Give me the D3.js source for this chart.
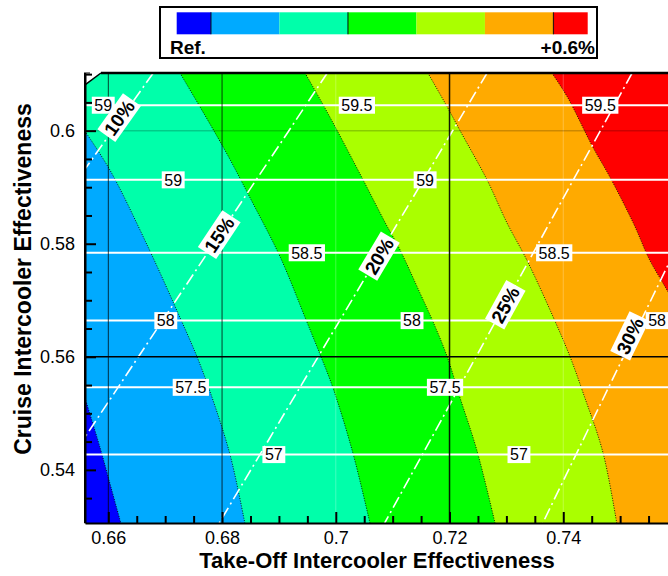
<!DOCTYPE html>
<html>
<head>
<meta charset="utf-8">
<script src="https://cdn.jsdelivr.net/npm/d3@7"></script>
<style>
  body { margin: 0; background: #fff; }
  svg { display: block; font-family: "Liberation Sans", Arial, Helvetica, sans-serif; }
</style>
</head>
<body>
<svg id="chart" width="668" height="576"></svg>
<script>
// ---- data -------------------------------------------------------------
// axis extents (take-off effectiveness, cruise effectiveness)
const xDomain = [0.6559, 0.76];
const yDomain = [0.5306, 0.6102];

const xTicks = [0.66, 0.68, 0.70, 0.72, 0.74];
const xTickLabels = ["0.66", "0.68", "0.7", "0.72", "0.74"];
const yTicks = [0.54, 0.56, 0.58, 0.60];
const yTickLabels = ["0.54", "0.56", "0.58", "0.6"];

// fuel-burn change bands, from reference (blue) to +0.6% (red)
const bandColors = ["#0000ff", "#00aaff", "#00ffaa", "#00ff00", "#aaff00", "#ffaa00", "#ff0000"];

// band boundaries, each traced top to bottom as [take-off eff, cruise eff]
const boundaryBlueLight = [[0.6559, 0.5527], [0.6585, 0.5441], [0.6605, 0.5368], [0.6622, 0.5306]];
const boundaryLightAqua = [[0.6559, 0.5999], [0.6603, 0.5930], [0.6670, 0.5794], [0.6728, 0.5665],
  [0.6756, 0.5600], [0.6779, 0.5538], [0.6814, 0.5427], [0.6840, 0.5306]];
const boundaryAquaGreen = [[0.6726, 0.6102], [0.6802, 0.5971], [0.6854, 0.5872], [0.6902, 0.5777],
  [0.6949, 0.5662], [0.6974, 0.5600], [0.6995, 0.5545], [0.7030, 0.5430], [0.7060, 0.5306]];
const boundaryGreenLime = [[0.6946, 0.6102], [0.6976, 0.6049], [0.7002, 0.6001], [0.7048, 0.5913],
  [0.7087, 0.5837], [0.7113, 0.5789], [0.7148, 0.5713], [0.7171, 0.5662], [0.7196, 0.5600],
  [0.7218, 0.5529], [0.7248, 0.5435], [0.7280, 0.5306]];
const boundaryLimeOrange = [[0.7162, 0.6102], [0.7196, 0.6042], [0.7218, 0.6001], [0.7266, 0.5913],
  [0.7301, 0.5837], [0.7336, 0.5771], [0.7382, 0.5671], [0.7412, 0.5600], [0.7435, 0.5536],
  [0.7470, 0.5430], [0.7494, 0.5306]];
const boundaryOrangeRed = [[0.7380, 0.6102], [0.7407, 0.6060], [0.7452, 0.5971], [0.7482, 0.5918],
  [0.7523, 0.5837], [0.7552, 0.5771], [0.7575, 0.5731], [0.7600, 0.5688]];
const boundaries = [boundaryBlueLight, boundaryLightAqua, boundaryAquaGreen,
  boundaryGreenLime, boundaryLimeOrange, boundaryOrangeRed];

// unusable corner of the design space (top left)
const cutCorner = [[0.6559, 0.6102], [0.6587, 0.6102], [0.6559, 0.6081]];

// iso-efficiency lines (cruise effectiveness) and their labels [text, take-off eff]
const effLineY = [0.6045, 0.5913, 0.5784, 0.5664, 0.5546, 0.5427];
const effLabels = [
  [["59", 0.6591], ["59.5", 0.7037], ["59.5", 0.7465]],
  [["59", 0.6714], ["59", 0.7157]],
  [["58.5", 0.6949], ["58.5", 0.7384]],
  [["58", 0.6701], ["58", 0.7134], ["58", 0.7565]],
  [["57.5", 0.6745], ["57.5", 0.7192]],
  [["57", 0.6891], ["57", 0.7322]]
];

// intercooler size lines (dash-dot)
const ratioNames = ["10%", "15%", "20%", "25%", "30%"];
const ratioTop = [[0.6679, 0.6102], [0.6985, 0.6102], [0.7266, 0.6102], [0.7521, 0.6102], [0.7748, 0.6102]];
const ratioBottom = [[0.6559, 0.5932], [0.6559, 0.5458], [0.6795, 0.5306], [0.7086, 0.5306], [0.7364, 0.5306]];
const ratioLabelAt = [[0.6619, 0.6023], [0.6795, 0.5816], [0.7076, 0.5778], [0.7298, 0.5692], [0.7517, 0.5637]];

// grid lines
const gridXStrong = [0.66, 0.68, 0.72];
const gridXFaint = [0.70, 0.74];
const gridYStrong = [0.56];
const gridYFaint = [0.60];

// legend
const legendSeparators = [0.5, 2.5, 5.5];
const legendEnds = ["Ref.", "+0.6%"];

// ---- layout -----------------------------------------------------------
const svg = d3.select("#chart");
const plot = { left: 85, top: 73, width: 592, height: 450 };

const x = d3.scaleLinear().domain(xDomain).range([plot.left, plot.left + plot.width]);
const y = d3.scaleLinear().domain(yDomain).range([plot.top + plot.height, plot.top]);

svg.append("defs").append("clipPath").attr("id", "plotClip")
  .append("rect")
  .attr("x", plot.left).attr("y", plot.top)
  .attr("width", plot.width).attr("height", plot.height);

const area = svg.append("g").attr("clip-path", "url(#plotClip)");

// ---- filled bands -----------------------------------------------------
const curve = d3.line().x(d => x(d[0])).y(d => y(d[1])).curve(d3.curveCatmullRom.alpha(0.5));
const xLo = xDomain[0] - 0.02, yLo = yDomain[0] - 0.02, yHi = yDomain[1] + 0.02;
const P = (a, b) => `${x(a)},${y(b)}`;

function leftOf(pts) {
  const first = pts[0], last = pts[pts.length - 1];
  return curve(pts) +
    `L${P(last[0], yLo)}L${P(xLo, yLo)}L${P(xLo, yHi)}L${P(first[0], yHi)}Z`;
}

area.append("rect")
  .attr("x", plot.left).attr("y", plot.top)
  .attr("width", plot.width).attr("height", plot.height)
  .attr("fill", bandColors[bandColors.length - 1]);

for (let i = boundaries.length - 1; i >= 0; i--) {
  area.append("path").attr("d", leftOf(boundaries[i])).attr("fill", bandColors[i]);
}

// band edges
area.selectAll("path.edge").data(boundaries).join("path")
  .attr("class", "edge")
  .attr("d", curve)
  .attr("fill", "none")
  .attr("stroke", "#000")
  .attr("stroke-width", 1)
  .attr("stroke-dasharray", "1,1.5")
  .attr("opacity", 0.85);

// faint grid
area.selectAll("line.gxf").data(gridXFaint).join("line")
  .attr("x1", d => x(d)).attr("x2", d => x(d))
  .attr("y1", plot.top).attr("y2", plot.top + plot.height)
  .attr("stroke", "#fff").attr("stroke-opacity", 0.25).attr("stroke-width", 1);
area.selectAll("line.gyf").data(gridYFaint).join("line")
  .attr("y1", d => y(d)).attr("y2", d => y(d))
  .attr("x1", plot.left).attr("x2", plot.left + plot.width)
  .attr("stroke", "#000").attr("stroke-opacity", 0.2).attr("stroke-width", 1.5);

// iso-efficiency lines
area.selectAll("line.eff").data(effLineY).join("line")
  .attr("class", "eff")
  .attr("x1", x(xDomain[0])).attr("x2", x(xDomain[1]))
  .attr("y1", d => y(d)).attr("y2", d => y(d))
  .attr("stroke", "#fff").attr("stroke-width", 2);

// intercooler size lines
area.selectAll("line.ratio").data(ratioNames).join("line")
  .attr("class", "ratio")
  .attr("x1", (d, i) => x(ratioTop[i][0])).attr("y1", (d, i) => y(ratioTop[i][1]))
  .attr("x2", (d, i) => x(ratioBottom[i][0])).attr("y2", (d, i) => y(ratioBottom[i][1]))
  .attr("stroke", "#fff").attr("stroke-width", 1.6)
  .attr("stroke-dasharray", "12,4,2,4");

// strong grid
area.selectAll("line.gxs").data(gridXStrong).join("line")
  .attr("x1", d => x(d)).attr("x2", d => x(d))
  .attr("y1", plot.top).attr("y2", plot.top + plot.height)
  .attr("stroke", "#000").attr("stroke-width", d => d === 0.72 ? 1.5 : 1)
  .attr("stroke-opacity", d => d === 0.72 ? 0.9 : 0.75);
area.selectAll("line.gys").data(gridYStrong).join("line")
  .attr("y1", d => y(d)).attr("y2", d => y(d))
  .attr("x1", plot.left).attr("x2", plot.left + plot.width)
  .attr("stroke", "#000").attr("stroke-width", 1.6);

// iso-efficiency labels
effLabels.forEach((row, r) => {
  row.forEach(([txt, xv]) => {
    const g = area.append("g").attr("transform", `translate(${x(xv)},${y(effLineY[r])})`);
    const rect = g.append("rect").attr("fill", "#fff");
    const t = g.append("text")
      .attr("text-anchor", "middle").attr("dy", "0.36em")
      .attr("font-size", 16).attr("fill", "#000").text(txt);
    const bb = t.node().getBBox();
    rect.attr("x", bb.x - 2.5).attr("y", -8.5).attr("width", bb.width + 5).attr("height", 17);
  });
});

// intercooler size labels, aligned with their lines
ratioNames.forEach((name, i) => {
  const dx = x(ratioTop[i][0]) - x(ratioBottom[i][0]);
  const dy = y(ratioTop[i][1]) - y(ratioBottom[i][1]);
  const ang = Math.atan2(dy, dx) * 180 / Math.PI;
  const g = area.append("g")
    .attr("transform", `translate(${x(ratioLabelAt[i][0])},${y(ratioLabelAt[i][1])}) rotate(${ang})`);
  const rect = g.append("rect").attr("fill", "#fff");
  const t = g.append("text")
    .attr("text-anchor", "middle").attr("dy", "0.36em")
    .attr("font-size", 19).attr("font-weight", "bold").attr("fill", "#000").text(name);
  const bb = t.node().getBBox();
  rect.attr("x", bb.x - 3).attr("y", -11).attr("width", bb.width + 6).attr("height", 22);
});

// cut corner of the design space
svg.append("path")
  .attr("d", "M" + cutCorner.map(d => P(d[0], d[1])).join("L") + "Z")
  .attr("fill", "#fff");
svg.append("line")
  .attr("x1", x(cutCorner[1][0])).attr("y1", y(cutCorner[1][1]))
  .attr("x2", x(cutCorner[2][0])).attr("y2", y(cutCorner[2][1]))
  .attr("stroke", "#000").attr("stroke-width", 1.5);

// ---- axes -------------------------------------------------------------
const minorX = d3.range(0.66, 0.7651, 0.005).filter(v => !xTicks.some(t => Math.abs(t - v) < 1e-6));
const minorY = d3.range(0.535, 0.6101, 0.005).filter(v => !yTicks.some(t => Math.abs(t - v) < 1e-6));

svg.append("g").attr("transform", `translate(0,${plot.top + plot.height})`)
  .call(d3.axisBottom(x).tickValues(xTicks).tickFormat((d, i) => xTickLabels[i])
    .tickSizeInner(-11).tickSizeOuter(0).tickPadding(8));
svg.append("g").attr("transform", `translate(0,${plot.top + plot.height})`)
  .call(d3.axisBottom(x).tickValues(minorX).tickFormat("").tickSizeInner(-7).tickSizeOuter(0))
  .call(g => g.select(".domain").remove());

svg.append("g").attr("transform", `translate(${plot.left},0)`)
  .call(d3.axisLeft(y).tickValues(yTicks).tickFormat((d, i) => yTickLabels[i])
    .tickSizeInner(-11).tickSizeOuter(0).tickPadding(10));
svg.append("g").attr("transform", `translate(${plot.left},0)`)
  .call(d3.axisLeft(y).tickValues(minorY).tickFormat("").tickSizeInner(-7).tickSizeOuter(0))
  .call(g => g.select(".domain").remove());

svg.selectAll(".tick line").attr("stroke", "#000").attr("stroke-width", 2);
svg.selectAll(".domain").attr("stroke", "#000").attr("stroke-width", 2);
svg.selectAll(".tick text").attr("font-size", 18).attr("fill", "#000")
  .attr("font-family", "'Liberation Sans', Arial, sans-serif");

// top frame edge
svg.append("line")
  .attr("x1", x(cutCorner[1][0])).attr("x2", plot.left + plot.width)
  .attr("y1", plot.top).attr("y2", plot.top)
  .attr("stroke", "#000").attr("stroke-width", 2.5);
svg.append("line")
  .attr("x1", plot.left - 1).attr("x2", plot.left + 5)
  .attr("y1", plot.top).attr("y2", plot.top)
  .attr("stroke", "#000").attr("stroke-width", 1);
svg.append("line")
  .attr("x1", plot.left).attr("x2", plot.left)
  .attr("y1", plot.top).attr("y2", plot.top + plot.height)
  .attr("stroke", "#000").attr("stroke-width", 2);

// axis titles
svg.append("text")
  .attr("x", 377).attr("y", 568)
  .attr("text-anchor", "middle").attr("font-size", 22).attr("font-weight", "bold")
  .text("Take-Off Intercooler Effectiveness");
svg.append("text")
  .attr("transform", "translate(31,279) rotate(-90)")
  .attr("text-anchor", "middle").attr("font-size", 23).attr("font-weight", "bold")
  .text("Cruise Intercooler Effectiveness");

// ---- legend -----------------------------------------------------------
const lg = svg.append("g");
lg.append("rect").attr("x", 160).attr("y", 7).attr("width", 437).attr("height", 51)
  .attr("fill", "#fff").attr("stroke", "#000").attr("stroke-width", 2);
const lx = d3.scaleLinear().domain([0, bandColors.length - 1]).range([176.7, 587.7]);
lg.selectAll("rect.sw").data(bandColors).join("rect")
  .attr("class", "sw")
  .attr("x", (d, i) => lx(Math.max(0, i - 0.5)))
  .attr("width", (d, i) => lx(Math.min(bandColors.length - 1, i + 0.5)) - lx(Math.max(0, i - 0.5)))
  .attr("y", 12.3).attr("height", 22)
  .attr("fill", d => d);
lg.selectAll("line.sep").data(legendSeparators).join("line")
  .attr("x1", d => lx(d)).attr("x2", d => lx(d))
  .attr("y1", 12.3).attr("y2", 34.3)
  .attr("stroke", "#000").attr("stroke-opacity", 0.8).attr("stroke-width", 1.2);
lg.append("text").attr("x", 170).attr("y", 54)
  .attr("font-size", 19).attr("font-weight", "bold").text(legendEnds[0]);
lg.append("text").attr("x", 595).attr("y", 54).attr("text-anchor", "end")
  .attr("font-size", 19).attr("font-weight", "bold").text(legendEnds[1]);
</script>
</body>
</html>
